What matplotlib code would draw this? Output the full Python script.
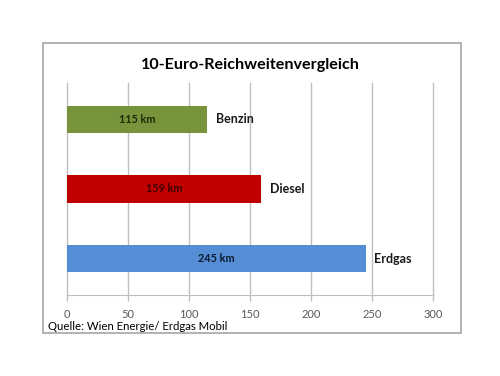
import matplotlib.pyplot as plt
from matplotlib.patches import Rectangle

plt.rcParams['font.family'] = ['Lato', 'DejaVu Sans']

# data
fuels = ["Benzin", "Diesel", "Erdgas"]
ranges_km = [115, 159, 245]
bar_colors = ["#77933C", "#C00000", "#558ED5"]
value_colors = ["#1a2a05", "#3a0000", "#0a1a30"]
x_ticks = [0, 50, 100, 150, 200, 250, 300]

W, H = 500, 376
fig = plt.figure(figsize=(W / 100, H / 100), dpi=100)

# outer chart border
fig.patches.append(Rectangle((43 / W, 1 - 333 / H), (461 - 43) / W, (333 - 43) / H,
                             transform=fig.transFigure, fill=False,
                             edgecolor="#a6a6a6", linewidth=1.2))

ax = fig.add_axes([67 / W, 1 - 295 / H, (433 - 67) / W, (295 - 83) / H])

ypos = list(range(len(fuels)))
ax.barh(ypos, ranges_km, height=0.39, color=bar_colors, zorder=3)

for y, v, name, tc in zip(ypos, ranges_km, fuels, value_colors):
    ax.text(v / 2, y, f"{v} km", ha="center", va="center", fontsize=7.8,
            fontweight="bold", color=tc, zorder=4)
    ax.text(v + 7, y, name, ha="left", va="center", fontsize=9,
            fontweight="bold", color="#1a1a1a", zorder=4)

ax.set_xlim(0, 300)
ax.set_ylim(2.52, -0.52)
ax.set_xticks(x_ticks)
ax.set_yticks([])
ax.grid(axis="x", color="#bfbfbf", linewidth=1, zorder=0)
for gl in ax.get_xgridlines():
    gl.set_clip_on(False)
for s in ["top", "right", "left"]:
    ax.spines[s].set_visible(False)
ax.spines["bottom"].set_color("#bfbfbf")
ax.tick_params(axis="x", colors="#bfbfbf", length=4, width=1, pad=6,
               labelsize=8, labelcolor="#595959")

fig.text(250 / W, 1 - 65 / H, "10-Euro-Reichweitenvergleich", ha="center",
         va="center", fontsize=11.6, fontweight="bold", color="#000000")
fig.text(48 / W, 1 - 326 / H, "Quelle: Wien Energie/ Erdgas Mobil", ha="left",
         va="center", fontsize=8.2, color="#000000")

fig.savefig("out.png", dpi=100)
